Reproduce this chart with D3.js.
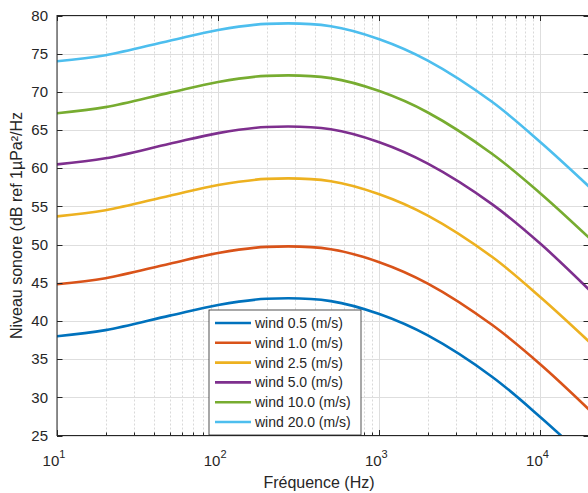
<!DOCTYPE html>
<meta charset="utf-8">
<title>Niveau sonore - vent</title>
<body>
<script src="https://cdn.jsdelivr.net/npm/d3@7"></script>
<style>
html, body {
    margin: 0;
    background: #fff;
}
svg {
    display: block;
    font-family: "Liberation Sans", Arial, Helvetica, sans-serif;
}
</style>
<script>
var width = 588,
    height = 493,
    plotLeft = 57,
    plotRight = 589,
    plotTop = 15.5,
    plotBottom = 435.5,
    ink = "#262626";

// values (dB ref 1uPa^2/Hz)
var freq    = [10, 20, 50, 100, 200, 500, 1000, 2000, 5000, 10000, 20000];
var wind05  = [38.0, 38.8, 40.7, 42.1, 42.9, 42.6, 40.9, 38.1, 32.7, 27.4, 21.6];
var wind10  = [44.8, 45.6, 47.5, 48.9, 49.7, 49.4, 47.7, 44.9, 39.5, 34.3, 28.4];
var wind25  = [53.7, 54.5, 56.4, 57.8, 58.6, 58.3, 56.6, 53.8, 48.4, 43.1, 37.3];
var wind50  = [60.5, 61.3, 63.2, 64.6, 65.4, 65.1, 63.4, 60.6, 55.3, 50.1, 44.1];
var wind100 = [67.2, 68.0, 69.9, 71.3, 72.1, 71.8, 70.1, 67.3, 61.9, 56.7, 50.9];
var wind200 = [74.0, 74.8, 76.7, 78.1, 78.9, 78.6, 76.9, 74.1, 68.7, 63.4, 57.6];

var names  = ["wind 0.5 (m/s)", "wind 1.0 (m/s)", "wind 2.5 (m/s)", "wind 5.0 (m/s)", "wind 10.0 (m/s)", "wind 20.0 (m/s)"];
var colors = ["#0072BD", "#D95319", "#EDB120", "#7E2F8E", "#77AC30", "#4DBEEE"];
var yTicks = [25, 30, 35, 40, 45, 50, 55, 60, 65, 70, 75, 80];
var xTicks = [10, 100, 1000, 10000];
var xExps  = ["1", "2", "3", "4"];

var series = [wind05, wind10, wind25, wind50, wind100, wind200];

var x = d3.scaleLog().domain([10, 20000]).range([plotLeft, plotRight]),
    y = d3.scaleLinear().domain([25, 80]).range([plotBottom, plotTop]);

var svg = d3.select("body").append("svg")
    .attr("width", width)
    .attr("height", height);

svg.append("clipPath").attr("id", "plot")
  .append("rect")
    .attr("x", plotLeft).attr("y", plotTop)
    .attr("width", plotRight - plotLeft).attr("height", plotBottom - plotTop);

// grid
var minor = x.ticks().filter(function(d) { return xTicks.indexOf(d) < 0; });
var grid = svg.append("g");
grid.selectAll(".xminor").data(minor).enter().append("line")
    .attr("x1", function(d) { return Math.round(x(d)) + 0.5; })
    .attr("x2", function(d) { return Math.round(x(d)) + 0.5; })
    .attr("y1", plotTop).attr("y2", plotBottom)
    .attr("stroke", "#d9d9d9")
    .attr("stroke-dasharray", "2,2");
grid.selectAll(".xmajor").data(xTicks).enter().append("line")
    .attr("x1", function(d) { return Math.round(x(d)) + 0.5; })
    .attr("x2", function(d) { return Math.round(x(d)) + 0.5; })
    .attr("y1", plotTop).attr("y2", plotBottom)
    .attr("stroke", "#dedede");
grid.selectAll(".ymajor").data(yTicks).enter().append("line")
    .attr("x1", plotLeft).attr("x2", plotRight)
    .attr("y1", function(d) { return Math.round(y(d)) + 0.5; })
    .attr("y2", function(d) { return Math.round(y(d)) + 0.5; })
    .attr("stroke", "#dedede");

// curves
var line = d3.line()
    .x(function(d, i) { return x(freq[i]); })
    .y(function(d) { return y(d); })
    .curve(d3.curveCatmullRom.alpha(0.5));

svg.append("g").attr("clip-path", "url(#plot)")
  .selectAll("path").data(series).enter().append("path")
    .attr("d", line)
    .attr("fill", "none")
    .attr("stroke", function(d, i) { return colors[i]; })
    .attr("stroke-width", 2.6);

// axes box and inward ticks
var axes = svg.append("g").attr("stroke", ink).attr("fill", "none");
axes.append("rect")
    .attr("x", plotLeft).attr("y", plotTop)
    .attr("width", plotRight - plotLeft).attr("height", plotBottom - plotTop)
    .attr("stroke-width", 1);
axes.selectAll(".tx").data(x.ticks()).enter().append("path")
    .attr("d", function(d) {
        var px = Math.round(x(d)) + 0.5,
            len = xTicks.indexOf(d) < 0 ? 3 : 5.5;
        return "M" + px + "," + plotBottom + "v" + (-len) + "M" + px + "," + plotTop + "v" + len;
    });
axes.selectAll(".ty").data(yTicks).enter().append("path")
    .attr("d", function(d) {
        var py = Math.round(y(d)) + 0.5;
        return "M" + plotLeft + "," + py + "h5.5M" + plotRight + "," + py + "h-5.5";
    });

// tick labels
svg.append("g").selectAll("text").data(yTicks).enter().append("text")
    .attr("x", plotLeft - 9)
    .attr("y", function(d) { return y(d); })
    .attr("dy", "0.35em")
    .attr("text-anchor", "end")
    .attr("font-size", 15)
    .attr("fill", ink)
    .text(function(d) { return d; });

var xl = svg.append("g").selectAll("text").data(xTicks).enter().append("text")
    .attr("x", function(d) { return x(d) - 3; })
    .attr("y", 466)
    .attr("text-anchor", "middle")
    .attr("font-size", 15)
    .attr("fill", ink);
xl.append("tspan").text("10");
xl.append("tspan")
    .attr("dy", -8)
    .attr("font-size", 11)
    .text(function(d, i) { return xExps[i]; });

// axis labels
svg.append("text")
    .attr("x", (plotLeft + plotRight) / 2 - 4)
    .attr("y", 488)
    .attr("text-anchor", "middle")
    .attr("font-size", 16)
    .attr("fill", ink)
    .text("Fréquence (Hz)");

svg.append("text")
    .attr("transform", "translate(22," + ((plotTop + plotBottom) / 2) + ")rotate(-90)")
    .attr("text-anchor", "middle")
    .attr("font-size", 16)
    .attr("fill", ink)
    .text("Niveau sonore (dB ref 1µPa²/Hz");

// legend
var legend = svg.append("g").attr("transform", "translate(209,310)");
legend.append("rect")
    .attr("width", 152).attr("height", 125)
    .attr("fill", "#fff")
    .attr("stroke", ink)
    .attr("stroke-width", 0.8);
var item = legend.selectAll("g").data(names).enter().append("g")
    .attr("transform", function(d, i) { return "translate(0," + (13 + i * 19.8) + ")"; });
item.append("line")
    .attr("x1", 6).attr("x2", 42)
    .attr("stroke", function(d, i) { return colors[i]; })
    .attr("stroke-width", 2.6);
item.append("text")
    .attr("x", 46)
    .attr("dy", "0.35em")
    .attr("font-size", 14)
    .attr("fill", ink)
    .text(function(d) { return d; });
</script>
